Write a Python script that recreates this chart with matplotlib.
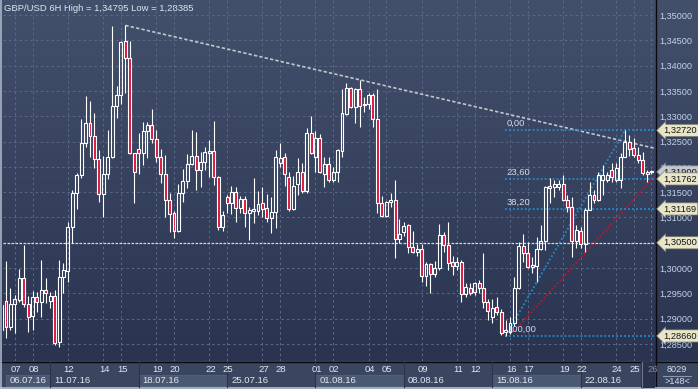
import matplotlib
matplotlib.use('Agg')
import matplotlib.pyplot as plt
import numpy as np
import matplotlib.transforms as mtransforms
from matplotlib.patches import Rectangle

plt.rcParams['font.family'] = ['Liberation Sans', 'DejaVu Sans']

# ---------------- data (GBP/USD 6H) ----------------
bar_index = list(range(-1, 147))
opens = [1.2878,
 1.2935,1.2884,1.2929,1.2937,1.2980,1.2929,1.2905,1.2943,1.2933,1.2957,
 1.2935,1.2945,1.2854,1.2982,1.2994,1.3081,1.3148,1.3184,1.3247,1.3287,
 1.3261,1.3216,1.3146,1.3186,1.3220,1.3320,1.3342,1.3449,1.3415,1.3227,
 1.3235,1.3227,1.3271,1.3283,1.3255,1.3220,1.3186,1.3135,1.3109,1.3073,
 1.3148,1.3172,1.3206,1.3222,1.3194,1.3210,1.3227,1.3231,1.3180,1.3081,
 1.3141,1.3129,1.3150,1.3119,1.3137,1.3109,1.3113,1.3113,1.3129,1.3119,
 1.3099,1.3111,1.3208,1.3220,1.3180,1.3117,1.3166,1.3190,1.3152,1.3267,
 1.3220,1.3257,1.3186,1.3206,1.3174,1.3190,1.3231,1.3304,1.3356,1.3318,
 1.3354,1.3322,1.3324,1.3342,1.3295,1.3129,1.3103,1.3131,1.3135,1.3057,
 1.3071,1.3085,1.3042,1.3032,1.3038,1.2984,1.3008,1.2988,1.3000,1.3065,
 1.3046,1.3012,1.3004,1.3012,1.2949,1.2961,1.2953,1.2971,1.2961,1.2933,
 1.2903,1.2923,1.2913,1.2874,1.2874,1.2892,1.2961,1.3044,1.3030,1.3002,
 1.3004,1.3038,1.3054,1.3158,1.3160,1.3160,1.3166,1.3135,1.3121,1.3054,
 1.3073,1.3048,1.3115,1.3144,1.3135,1.3174,1.3174,1.3194,1.3174,1.3174,
 1.3220,1.3249,1.3237,1.3223,1.3214,1.3186,1.3190]
highs = [1.2937,
 1.3014,1.2961,1.2947,1.2998,1.3046,1.2945,1.2955,1.2953,1.3016,1.2980,
 1.2953,1.2957,1.3016,1.3010,1.3091,1.3154,1.3188,1.3295,1.3340,1.3330,
 1.3306,1.3233,1.3222,1.3273,1.3478,1.3360,1.3449,1.34795,1.3449,1.3228,
 1.3267,1.3289,1.3289,1.3314,1.3273,1.3235,1.3223,1.3148,1.3113,1.3166,
 1.3196,1.3225,1.3273,1.3269,1.3229,1.3239,1.3253,1.3291,1.3182,1.3113,
 1.3144,1.3162,1.3160,1.3143,1.3143,1.3121,1.3178,1.3152,1.3160,1.3146,
 1.3141,1.3233,1.3247,1.3227,1.3190,1.3182,1.3218,1.3208,1.3277,1.3300,
 1.3271,1.3265,1.3220,1.3220,1.3200,1.3235,1.3354,1.3366,1.3357,1.3356,
 1.3372,1.3338,1.3346,1.3346,1.3354,1.3143,1.3133,1.3148,1.3174,1.3097,
 1.3091,1.3087,1.3073,1.3048,1.3048,1.3012,1.3010,1.3014,1.3087,1.3071,
 1.3091,1.3024,1.3022,1.3016,1.2971,1.2971,1.2973,1.2977,1.3030,1.2939,
 1.2939,1.2943,1.2919,1.2898,1.2903,1.2982,1.3052,1.3067,1.3052,1.3022,
 1.3061,1.3085,1.3162,1.3178,1.3174,1.3174,1.3184,1.3144,1.3141,1.3085,
 1.3081,1.3119,1.3170,1.3154,1.3190,1.3204,1.3190,1.3208,1.3208,1.3227,
 1.3272,1.3263,1.3257,1.3239,1.3229,1.3194,1.3194]
lows = [1.2868,
 1.2862,1.2878,1.2872,1.2933,1.2923,1.2874,1.2878,1.2913,1.2903,1.2931,
 1.2921,1.2848,1.2844,1.2951,1.2973,1.3050,1.3117,1.3178,1.3239,1.3220,
 1.3198,1.3131,1.3101,1.3176,1.3218,1.3297,1.3324,1.3346,1.3226,1.3129,
 1.3186,1.3204,1.3218,1.3247,1.3210,1.3168,1.3101,1.3071,1.3059,1.3071,
 1.3131,1.3158,1.3204,1.3154,1.3160,1.3194,1.3180,1.3164,1.3075,1.3073,
 1.3109,1.3107,1.3091,1.3109,1.3081,1.3056,1.3089,1.3105,1.3101,1.3091,
 1.3069,1.3079,1.3200,1.3162,1.3113,1.3115,1.3144,1.3148,1.3148,1.3225,
 1.3190,1.3188,1.3160,1.3170,1.3170,1.3170,1.3220,1.3302,1.3316,1.3287,
 1.3279,1.3308,1.3314,1.3279,1.3109,1.3101,1.3101,1.3121,1.3020,1.3050,
 1.3063,1.3030,1.3030,1.3024,1.2973,1.2965,1.2951,1.2982,1.2996,1.3032,
 1.2996,1.2986,1.2996,1.2933,1.2943,1.2947,1.2947,1.2951,1.2921,1.2898,
 1.2892,1.2907,1.2868,1.2866,1.2870,1.2886,1.2959,1.3012,1.3000,1.2990,
 1.2973,1.3036,1.3036,1.3129,1.3141,1.3154,1.3133,1.3111,1.3022,1.3040,
 1.3040,1.3032,1.3115,1.3129,1.3133,1.3144,1.3170,1.3170,1.3170,1.3158,
 1.3220,1.3222,1.3220,1.3208,1.3184,1.3170,1.3186]
closes = [1.2927,
 1.2884,1.2929,1.2939,1.2980,1.2929,1.2903,1.2943,1.2933,1.2957,1.2951,
 1.2945,1.2852,1.2982,1.2996,1.3081,1.3148,1.3184,1.3247,1.3287,1.3261,
 1.3216,1.3146,1.3186,1.3220,1.3320,1.3342,1.3447,1.3415,1.3227,1.3190,
 1.3227,1.3271,1.3283,1.3255,1.3220,1.3186,1.3135,1.3107,1.3073,1.3148,
 1.3172,1.3206,1.3222,1.3194,1.3210,1.3229,1.3231,1.3180,1.3081,1.3105,
 1.3129,1.3150,1.3119,1.3137,1.3109,1.3115,1.3117,1.3127,1.3117,1.3099,
 1.3111,1.3220,1.3218,1.3186,1.3117,1.3162,1.3190,1.3152,1.3267,1.3227,
 1.3257,1.3190,1.3206,1.3174,1.3190,1.3233,1.3306,1.3356,1.3318,1.3354,
 1.3320,1.3324,1.3342,1.3295,1.3129,1.3103,1.3131,1.3135,1.3057,1.3067,
 1.3083,1.3042,1.3032,1.3038,1.2984,1.3008,1.2988,1.3000,1.3065,1.3046,
 1.3010,1.3004,1.3012,1.2949,1.2963,1.2951,1.2971,1.2961,1.2933,1.2915,
 1.2921,1.2913,1.2872,1.2878,1.2892,1.2961,1.3044,1.3030,1.3002,1.3006,
 1.3038,1.3054,1.3160,1.3162,1.3166,1.3166,1.3135,1.3121,1.3054,1.3075,
 1.3048,1.3115,1.3144,1.3135,1.3184,1.3184,1.3184,1.3180,1.3198,1.3220,
 1.3249,1.3235,1.3223,1.3214,1.3188,1.3190,1.3191]

day_labels = ['07','08','12','14','15','19','20','22','25','27','28','01','02',
              '04','05','09','11','12','16','17','19','22','24','25','26']
day_pos = [2,6,14,22,26,34,38,46,50,58,62,70,74,82,86,94,102,106,114,118,126,130,138,142,146]
week_labels = ['06.07.16','11.07.16','18.07.16','25.07.16','01.08.16','08.08.16','15.08.16','22.08.16']
week_pos = [0,10,30,50,70,90,110,130]

price_ticks = [1.350,1.345,1.340,1.335,1.330,1.325,1.320,1.315,1.310,1.305,1.300,1.295,1.290,1.285]
fib_low, fib_high = 1.28660, 1.32720
fib_low_pos, fib_high_pos = 113, 140
fib_levels = [0.0, 23.6, 38.2, 100.0]
trend_pts = [(27, 1.34795), (80, 1.3372)]
red_line = [(115, 1.2876), (146.8, 1.3182)]
hline_price = 1.30500
current_price = 1.31900
title = 'GBP/USD 6H High = 1,34795 Low = 1,28385'

# ---------------- figure ----------------
W, H = 698, 389
fig = plt.figure(figsize=(W/100, H/100), dpi=100)

bg = fig.add_axes([0, 0, 1, 1])
bg.set_xlim(0, W); bg.set_ylim(H, 0); bg.axis('off')
top_c = np.array([0x43, 0x50, 0x6c]) / 255
bot_c = np.array([0x2a, 0x34, 0x51]) / 255
t = np.linspace(0, 1, 256)[:, None]
grad = top_c[None, None, :] * (1 - t[..., None]) + bot_c[None, None, :] * t[..., None]
grad = np.repeat(grad, 2, axis=1)
bg.imshow(grad, extent=[0, W, 361, 0], aspect='auto', zorder=0)
# bottom strip
bg.add_patch(Rectangle((0, 361), W, 28, color='#3a4560', zorder=1))
bg.plot([655.5, 655.5], [0, H], color='#080a10', lw=1.0, zorder=3)
bg.plot([0, W], [361.5, 361.5], color='#080a10', lw=1.0, zorder=3)
bg.plot([0.7, 0.7], [0, H], color='#a8b4c6', lw=1.2, zorder=3)
bg.plot([0, W], [388.3, 388.3], color='#b8c2ce', lw=1.2, zorder=3)
bg.text(4, 8, title, color='#dfe6f0', fontsize=6.8, va='center', ha='left', zorder=5)
# right-bottom info box
bg.text(677, 369, '8029', color='#d4dcea', fontsize=6.6, ha='center', va='center', zorder=5)
bg.text(677, 382, '>148<', color='#d4dcea', fontsize=6.6, ha='center', va='center', zorder=5)
bg.plot([663, 691], [375.5, 375.5], color='#8a96aa', lw=0.8, zorder=4)

# ---------------- main price axes ----------------
ax = fig.add_axes([3/W, 28/H, 652/W, 361/H])
ax.patch.set_alpha(0)
for s in ax.spines.values():
    s.set_visible(False)
ax.set_xlim(-0.68, 146.8)
ax.set_ylim(1.281648, 1.352963)

# grid
for p in price_ticks:
    ax.axhline(p, color='#5b6a88', lw=0.7, ls=(0, (2.5, 3)), zorder=1)
for d in day_pos:
    ax.axvline(d, color='#5b6a88', lw=0.7, ls=(0, (2.5, 3)), zorder=1)

ax.set_yticks(price_ticks)
# the 1,30500 level is fully covered by its own flag on the scale
ax.set_yticklabels(['' if abs(p - hline_price) < 1e-9 else ('%.5f' % p).replace('.', ',')
                    for p in price_ticks])
ax.yaxis.tick_right()
ax.tick_params(axis='y', length=0, pad=3, labelsize=6.6, labelcolor='#c3d1e8')
ax.set_xticks([])

# horizontal line and trend lines
ax.axhline(hline_price, color='#d4d8e0', lw=0.9, ls=(0, (2, 1.2)), zorder=3)
(x0, y0), (x1, y1) = trend_pts
slope = (y1 - y0) / (x1 - x0)
ax.plot([x0, 146.8], [y0, y0 + slope * (146.8 - x0)], color='#c2c6ce', lw=1.2,
        ls=(0, (2, 1.3)), zorder=3)
ax.plot([red_line[0][0], red_line[1][0]], [red_line[0][1], red_line[1][1]],
        color='#c8102e', lw=1.3, ls=(0, (1, 1.2)), zorder=3)
ax.plot([fib_low_pos, fib_high_pos], [fib_low, fib_high], color='#1b8fd2', lw=1.3,
        ls=(0, (1, 1.2)), zorder=3)
for lv in fib_levels:
    p = fib_high - lv / 100 * (fib_high - fib_low)
    ax.plot([fib_low_pos - 0.2, 146.8], [p, p], color='#1b8fd2', lw=1.3, ls=(0, (1, 1.2)), zorder=3)
    ax.text(fib_low_pos + 0.3, p + 0.0005, ('%.2f' % lv).replace('.', ','), color='#d2dcec',
            fontsize=6.8, ha='left', va='bottom', zorder=6)

# candles
x = np.array(bar_index, dtype=float)
o = np.array(opens); h = np.array(highs); l = np.array(lows); c = np.array(closes)
top = np.maximum(o, c); bot = np.minimum(o, c)
ax.vlines(x, top, h, color='white', lw=0.8, zorder=4)
ax.vlines(x, l, bot, color='white', lw=0.8, zorder=4)
fc = ['none' if cc >= oo else '#dc143c' for oo, cc in zip(o, c)]
ax.bar(x, np.maximum(top - bot, 0.00003), bottom=bot, width=0.66, color=fc,
       edgecolor='white', linewidth=0.8, zorder=5)

# flags on the price scale
blend = mtransforms.blended_transform_factory(ax.transAxes, ax.transData)
def flag(price, txt, fcol, z):
    ax.text(1.0125, price, txt, transform=blend, fontsize=6.7, color='#151515',
            ha='left', va='center', zorder=z, clip_on=False,
            bbox=dict(boxstyle='larrow,pad=0.17', fc=fcol, ec='#7a7a72', lw=0.5))
flag(current_price, ('%.5f' % current_price).replace('.', ','), '#c4c8cf', 7)
for lv in fib_levels:
    p = fib_high - lv / 100 * (fib_high - fib_low)
    flag(p, ('%.5f' % round(p, 5)).replace('.', ','), '#e9e6c8', 8)
flag(hline_price, ('%.5f' % hline_price).replace('.', ','), '#e9e6c8', 8)

# ---------------- date strip ----------------
axd = fig.add_axes([3/W, 0, 652/W, 27/H])
axd.patch.set_alpha(0)
axd.axis('off')
axd.set_xlim(ax.get_xlim())
axd.set_ylim(27, 0)
for i, (wp, wl) in enumerate(zip(week_pos, week_labels)):
    end = week_pos[i + 1] if i + 1 < len(week_pos) else 146.8
    if i % 2 == 0:
        axd.add_patch(Rectangle((wp, 12.5), end - wp, 11.5, fc='#4b5872', ec='#56637c', lw=0.6, zorder=1))
    if i > 0:
        axd.plot([wp, wp], [0, 25], color='#2a3347', lw=0.8, zorder=2)
    axd.text(wp + 0.9, 18.3, wl, color='#e2e8f2', fontsize=6.8, ha='left', va='center', zorder=3)
axd.add_patch(Rectangle((143.6, 0), 146.8 - 143.6, 26, fc='#29324a', ec='none', zorder=2))
axd.plot([143.8, 143.8], [0, 26], color='#6c7890', lw=0.8, zorder=2)
for dp, dl in zip(day_pos, day_labels):
    col = '#e2e8f2' if dp < 144 else '#7d8aa2'
    axd.text(dp + 0.25, 7.2, dl, color=col, fontsize=6.8, ha='center', va='center', zorder=3)

fig.savefig('out.png', dpi=100)
